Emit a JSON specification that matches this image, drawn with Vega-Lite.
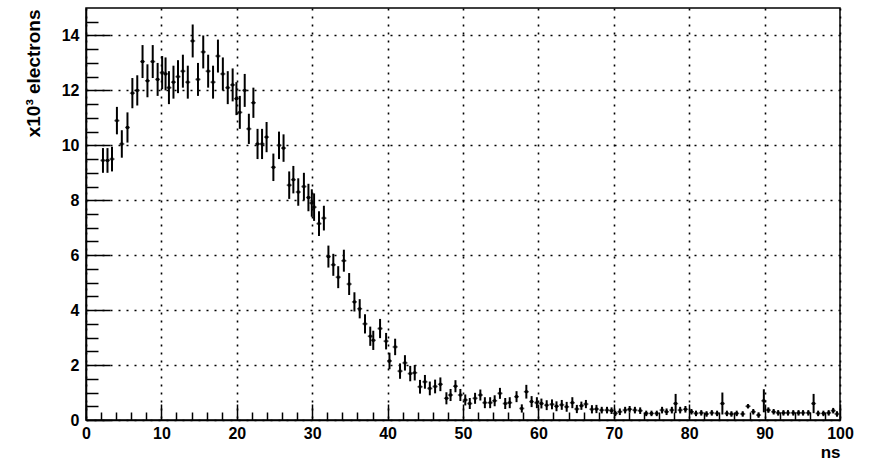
{
  "$schema": "https://vega.github.io/schema/vega-lite/v6.json",
  "width": 754,
  "height": 412,
  "autosize": "none",
  "padding": {"left": 86, "top": 8, "right": 29, "bottom": 40},
  "background": "white",
  "config": {
    "view": {"stroke": "black", "strokeWidth": 1.5},
    "font": "Liberation Sans",
    "axis": {
      "domainColor": "black",
      "domainWidth": 1.5,
      "tickColor": "black",
      "tickWidth": 1.5,
      "gridColor": "black",
      "gridDash": [2, 6],
      "gridWidth": 1.6,
      "labelFont": "Liberation Sans",
      "labelFontSize": 16,
      "labelFontWeight": "bold",
      "labelColor": "black",
      "titleFont": "Liberation Sans",
      "titleFontSize": 17,
      "titleFontWeight": "bold",
      "titleColor": "black"
    }
  },
  "data": {
    "values": [
      {"x": 2.25, "y": 9.45, "e": 0.45},
      {"x": 2.85, "y": 9.45, "e": 0.45},
      {"x": 3.45, "y": 9.5, "e": 0.45},
      {"x": 4.1, "y": 10.9, "e": 0.5},
      {"x": 4.75, "y": 10.05, "e": 0.5},
      {"x": 5.5, "y": 10.65, "e": 0.55},
      {"x": 6.15, "y": 11.9, "e": 0.55},
      {"x": 6.8, "y": 12.0, "e": 0.55},
      {"x": 7.5, "y": 13.05, "e": 0.6},
      {"x": 8.15, "y": 12.35, "e": 0.6},
      {"x": 8.85, "y": 13.05, "e": 0.6},
      {"x": 9.5, "y": 12.4, "e": 0.6},
      {"x": 10.1, "y": 12.65, "e": 0.6},
      {"x": 10.55, "y": 12.6, "e": 0.6},
      {"x": 11.0, "y": 12.1, "e": 0.6},
      {"x": 11.6, "y": 12.3, "e": 0.6},
      {"x": 12.2, "y": 12.5, "e": 0.6},
      {"x": 12.85, "y": 12.7, "e": 0.6},
      {"x": 13.5, "y": 12.3, "e": 0.6},
      {"x": 14.15, "y": 13.8, "e": 0.6},
      {"x": 14.85, "y": 12.4, "e": 0.6},
      {"x": 15.55, "y": 13.4, "e": 0.6},
      {"x": 16.2, "y": 12.7, "e": 0.6},
      {"x": 16.85, "y": 12.3, "e": 0.6},
      {"x": 17.5, "y": 13.25, "e": 0.6},
      {"x": 18.15, "y": 12.6, "e": 0.6},
      {"x": 18.8, "y": 12.1, "e": 0.6},
      {"x": 19.45, "y": 12.2, "e": 0.6},
      {"x": 19.95, "y": 11.7, "e": 0.6},
      {"x": 20.4, "y": 11.2, "e": 0.6},
      {"x": 21.05, "y": 12.0, "e": 0.6},
      {"x": 21.6, "y": 10.6, "e": 0.55},
      {"x": 22.2, "y": 11.55, "e": 0.55},
      {"x": 22.75, "y": 10.05, "e": 0.55},
      {"x": 23.35, "y": 10.05, "e": 0.55},
      {"x": 23.95, "y": 10.3, "e": 0.55},
      {"x": 24.85, "y": 9.2, "e": 0.5},
      {"x": 25.6, "y": 10.0, "e": 0.5},
      {"x": 26.2, "y": 9.9, "e": 0.5},
      {"x": 26.95, "y": 8.55, "e": 0.5},
      {"x": 27.5, "y": 8.75, "e": 0.5},
      {"x": 28.15, "y": 8.3, "e": 0.5},
      {"x": 28.9, "y": 8.5, "e": 0.5},
      {"x": 29.5, "y": 8.1, "e": 0.5},
      {"x": 29.95, "y": 7.9, "e": 0.5},
      {"x": 30.25, "y": 7.75, "e": 0.5},
      {"x": 30.9, "y": 7.15, "e": 0.45},
      {"x": 31.55, "y": 7.35, "e": 0.45},
      {"x": 32.15, "y": 5.95, "e": 0.4},
      {"x": 32.8, "y": 5.65, "e": 0.4},
      {"x": 33.45, "y": 5.2, "e": 0.4},
      {"x": 34.2, "y": 5.8, "e": 0.4},
      {"x": 34.9, "y": 4.95, "e": 0.4},
      {"x": 35.6, "y": 4.3, "e": 0.35},
      {"x": 36.3, "y": 4.05, "e": 0.35},
      {"x": 37.0, "y": 3.5, "e": 0.35},
      {"x": 37.7, "y": 3.05, "e": 0.35},
      {"x": 38.1, "y": 2.9, "e": 0.35},
      {"x": 39.0, "y": 3.33, "e": 0.35},
      {"x": 39.8, "y": 2.87, "e": 0.3},
      {"x": 40.25, "y": 2.15, "e": 0.3},
      {"x": 41.0, "y": 2.66, "e": 0.3},
      {"x": 41.65, "y": 1.78, "e": 0.28},
      {"x": 42.3, "y": 2.08, "e": 0.28},
      {"x": 43.0, "y": 1.69, "e": 0.28},
      {"x": 43.6, "y": 1.72, "e": 0.28},
      {"x": 44.3, "y": 1.21, "e": 0.25},
      {"x": 44.95, "y": 1.39, "e": 0.25},
      {"x": 45.6, "y": 1.15, "e": 0.25},
      {"x": 46.3, "y": 1.22, "e": 0.25},
      {"x": 47.0, "y": 1.3, "e": 0.25},
      {"x": 47.8, "y": 0.79, "e": 0.22},
      {"x": 48.35, "y": 0.91, "e": 0.22},
      {"x": 49.0, "y": 1.23, "e": 0.22},
      {"x": 49.65, "y": 0.91, "e": 0.22},
      {"x": 50.3, "y": 0.73, "e": 0.2},
      {"x": 50.9, "y": 0.6, "e": 0.2},
      {"x": 51.6, "y": 0.79, "e": 0.2},
      {"x": 52.3, "y": 0.91, "e": 0.2},
      {"x": 52.9, "y": 0.63, "e": 0.2},
      {"x": 53.6, "y": 0.63, "e": 0.2},
      {"x": 54.2, "y": 0.7, "e": 0.2},
      {"x": 54.9, "y": 0.97, "e": 0.2},
      {"x": 55.6, "y": 0.6, "e": 0.2},
      {"x": 56.2, "y": 0.63, "e": 0.2},
      {"x": 57.1, "y": 0.85, "e": 0.2},
      {"x": 57.8, "y": 0.42, "e": 0.15},
      {"x": 58.4, "y": 1.03, "e": 0.25},
      {"x": 59.1, "y": 0.67, "e": 0.2},
      {"x": 59.8, "y": 0.63, "e": 0.2},
      {"x": 60.4, "y": 0.6, "e": 0.18},
      {"x": 61.1, "y": 0.54, "e": 0.18},
      {"x": 61.8, "y": 0.57, "e": 0.18},
      {"x": 62.4, "y": 0.5, "e": 0.18},
      {"x": 63.1, "y": 0.55, "e": 0.18},
      {"x": 63.75, "y": 0.48, "e": 0.18},
      {"x": 64.5, "y": 0.63, "e": 0.2},
      {"x": 65.1, "y": 0.4, "e": 0.15},
      {"x": 65.7, "y": 0.52, "e": 0.15},
      {"x": 66.3, "y": 0.58, "e": 0.15},
      {"x": 67.1, "y": 0.39, "e": 0.15},
      {"x": 67.7, "y": 0.4, "e": 0.15},
      {"x": 68.4, "y": 0.36, "e": 0.12},
      {"x": 69.1, "y": 0.36, "e": 0.12},
      {"x": 69.7, "y": 0.34, "e": 0.12},
      {"x": 70.2, "y": 0.24, "e": 0.1},
      {"x": 70.8, "y": 0.3, "e": 0.12},
      {"x": 71.5, "y": 0.36, "e": 0.12},
      {"x": 72.1, "y": 0.39, "e": 0.12},
      {"x": 72.8, "y": 0.36, "e": 0.12},
      {"x": 73.5, "y": 0.34, "e": 0.12},
      {"x": 74.3, "y": 0.24, "e": 0.1},
      {"x": 75.0, "y": 0.24, "e": 0.1},
      {"x": 75.7, "y": 0.24, "e": 0.1},
      {"x": 76.4, "y": 0.36, "e": 0.12},
      {"x": 77.0, "y": 0.3, "e": 0.12},
      {"x": 77.7, "y": 0.36, "e": 0.12},
      {"x": 78.2, "y": 0.6, "e": 0.35},
      {"x": 78.8, "y": 0.36, "e": 0.12},
      {"x": 79.5, "y": 0.39, "e": 0.12},
      {"x": 80.3, "y": 0.3, "e": 0.1},
      {"x": 80.9, "y": 0.24, "e": 0.1},
      {"x": 81.6, "y": 0.26, "e": 0.1},
      {"x": 82.3, "y": 0.22, "e": 0.1},
      {"x": 83.0, "y": 0.26, "e": 0.1},
      {"x": 83.7, "y": 0.24, "e": 0.1},
      {"x": 84.4, "y": 0.6, "e": 0.4},
      {"x": 85.0, "y": 0.24, "e": 0.1},
      {"x": 85.6, "y": 0.22, "e": 0.1},
      {"x": 86.3, "y": 0.24, "e": 0.1},
      {"x": 87.1, "y": 0.22, "e": 0.1},
      {"x": 87.8, "y": 0.5, "e": 0.08},
      {"x": 88.5, "y": 0.3, "e": 0.1},
      {"x": 89.2, "y": 0.18, "e": 0.1},
      {"x": 89.9, "y": 0.7, "e": 0.42},
      {"x": 90.5, "y": 0.36, "e": 0.1},
      {"x": 91.2, "y": 0.3, "e": 0.1},
      {"x": 91.8, "y": 0.26, "e": 0.1},
      {"x": 92.5, "y": 0.26, "e": 0.1},
      {"x": 93.1, "y": 0.26, "e": 0.1},
      {"x": 93.8, "y": 0.26, "e": 0.1},
      {"x": 94.5, "y": 0.26, "e": 0.1},
      {"x": 95.1, "y": 0.26, "e": 0.1},
      {"x": 95.8, "y": 0.26, "e": 0.1},
      {"x": 96.5, "y": 0.6, "e": 0.35},
      {"x": 97.1, "y": 0.24, "e": 0.1},
      {"x": 97.8, "y": 0.24, "e": 0.1},
      {"x": 98.5, "y": 0.26, "e": 0.1},
      {"x": 99.1, "y": 0.34, "e": 0.1},
      {"x": 99.6, "y": 0.22, "e": 0.1}
    ]
  },
  "encoding": {
    "x": {
      "field": "x", "type": "quantitative",
      "scale": {"domain": [0, 100], "nice": false},
      "axis": {
        "values": [0,2,4,6,8,10,12,14,16,18,20,22,24,26,28,30,32,34,36,38,40,42,44,46,48,50,52,54,56,58,60,62,64,66,68,70,72,74,76,78,80,82,84,86,88,90,92,94,96,98,100],
        "labelExpr": "datum.value % 10 === 0 ? '' + datum.value : ''",
        "tickSize": {"condition": {"test": "datum.value % 10 === 0", "value": -16}, "value": -8},
        "grid": true,
        "gridOpacity": {"condition": {"test": "datum.value % 10 === 0", "value": 1}, "value": 0},
        "labelPadding": 21,
        "title": "ns",
        "titleAnchor": "end",
        "titleBaseline": "alphabetic",
        "titleY": 37,
        "labelFlush": false,
        "labelOverlap": false
      }
    },
    "y": {
      "field": "y", "type": "quantitative",
      "scale": {"domain": [0, 15], "nice": false},
      "axis": {
        "values": [0,0.5,1,1.5,2,2.5,3,3.5,4,4.5,5,5.5,6,6.5,7,7.5,8,8.5,9,9.5,10,10.5,11,11.5,12,12.5,13,13.5,14,14.5],
        "labelExpr": "datum.value % 2 === 0 ? '' + datum.value : ''",
        "tickSize": {"condition": {"test": "datum.value % 2 === 0", "value": -24}, "value": -12},
        "grid": true,
        "gridOpacity": {"condition": {"test": "datum.value % 2 === 0", "value": 1}, "value": 0},
        "labelPadding": 31,
        "title": "x10³ electrons",
        "titleAngle": -90,
        "titleAlign": "right",
        "titleBaseline": "alphabetic",
        "titleFontSize": 19,
        "titleX": -47,
        "titleY": 1,
        "labelFlush": false,
        "labelOverlap": false
      }
    }
  },
  "layer": [
    {
      "mark": {"type": "errorbar", "ticks": false, "color": "black", "thickness": 2},
      "encoding": {
        "yError": {"field": "e"}
      }
    },
    {
      "mark": {"type": "tick", "orient": "horizontal", "color": "black", "size": 5, "thickness": 1.5}
    },
    {
      "mark": {"type": "square", "color": "black", "filled": true, "size": 8, "opacity": 1}
    }
  ]
}
